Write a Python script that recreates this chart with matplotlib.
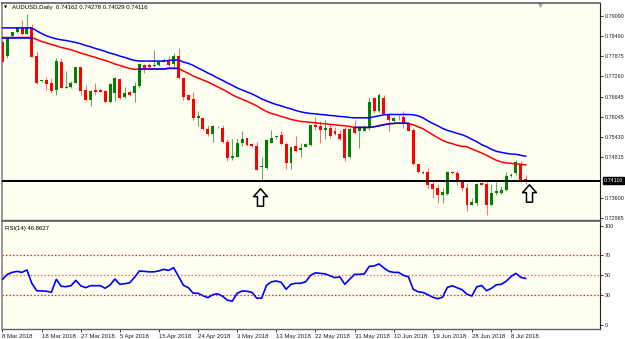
import numpy as np
import matplotlib.pyplot as plt
from matplotlib.path import Path
from matplotlib.transforms import blended_transform_factory

# AUDUSD daily bars, 8 Mar 2018 - 11 Jul 2018
opens = [
    0.7830, 0.7788, 0.7849, 0.7859, 0.7871, 0.7855, 0.7873, 0.7788, 0.7712, 0.7715,
    0.7705, 0.7685, 0.7770, 0.7692, 0.7695, 0.7707, 0.7753, 0.7685, 0.7655, 0.7685,
    0.7685, 0.7682, 0.7648, 0.7675, 0.7718, 0.7665, 0.7678, 0.7675, 0.7698, 0.7760,
    0.7760, 0.7757, 0.7760, 0.7770, 0.7775, 0.7762, 0.7787, 0.7720, 0.7670, 0.7657,
    0.7600, 0.7600, 0.7567, 0.7553, 0.7572, 0.7570, 0.7529, 0.7480, 0.7484, 0.7525,
    0.7540, 0.7523, 0.7517, 0.7452, 0.7449, 0.7526, 0.7544, 0.7550, 0.7523, 0.7464,
    0.7517, 0.7505, 0.7514, 0.7520, 0.7580, 0.7577, 0.7563, 0.7570, 0.7560, 0.7553,
    0.7567, 0.7483, 0.7572, 0.7560, 0.7562, 0.7570, 0.7662, 0.7620, 0.7660, 0.7612,
    0.7590, 0.7602, 0.7602, 0.7585, 0.7565, 0.7461, 0.7436, 0.7437, 0.7401, 0.7389,
    0.7369, 0.7371, 0.7437, 0.7434, 0.7409, 0.7389, 0.7339, 0.7344, 0.7404, 0.7401,
    0.7339, 0.7374, 0.7374, 0.7384, 0.7426, 0.7434, 0.7461, 0.74162]
highs = [
    0.7833, 0.7845, 0.7860, 0.7876, 0.7896, 0.7914, 0.7884, 0.7800, 0.7715, 0.7725,
    0.7720, 0.7781, 0.7782, 0.7742, 0.7712, 0.7755, 0.7755, 0.7700, 0.7685, 0.7705,
    0.7690, 0.7685, 0.7705, 0.7725, 0.7722, 0.7695, 0.7682, 0.7710, 0.7765, 0.7762,
    0.7765, 0.7806, 0.7772, 0.7781, 0.7787, 0.7796, 0.7811, 0.7721, 0.7673, 0.7680,
    0.7620, 0.7601, 0.7580, 0.7580, 0.7577, 0.7580, 0.7537, 0.7537, 0.7540, 0.7560,
    0.7541, 0.7526, 0.7529, 0.7484, 0.7537, 0.7565, 0.7550, 0.7560, 0.7529, 0.7517,
    0.7545, 0.7525, 0.7525, 0.7580, 0.7603, 0.7590, 0.7595, 0.7580, 0.7573, 0.7565,
    0.7573, 0.7573, 0.7595, 0.7575, 0.7580, 0.7665, 0.7665, 0.7675, 0.7670, 0.7615,
    0.7602, 0.7608, 0.7622, 0.7588, 0.7570, 0.7462, 0.7441, 0.7449, 0.7414, 0.7401,
    0.7389, 0.7441, 0.7441, 0.7441, 0.7414, 0.7404, 0.7359, 0.7404, 0.7407, 0.7409,
    0.7401, 0.7409, 0.7394, 0.7437, 0.7434, 0.7474, 0.7471, 0.74278]
lows = [
    0.7768, 0.7781, 0.7848, 0.7857, 0.7851, 0.7854, 0.7784, 0.7703, 0.7709, 0.7685,
    0.7675, 0.7670, 0.7691, 0.7691, 0.7692, 0.7705, 0.7670, 0.7652, 0.7638, 0.7670,
    0.7678, 0.7648, 0.7647, 0.7652, 0.7658, 0.7660, 0.7668, 0.7648, 0.7692, 0.7735,
    0.7750, 0.7755, 0.7758, 0.7769, 0.7757, 0.7750, 0.7718, 0.7655, 0.7654, 0.7595,
    0.7575, 0.7565, 0.7545, 0.7529, 0.7569, 0.7525, 0.7472, 0.7474, 0.7483, 0.7517,
    0.7517, 0.7514, 0.7443, 0.7414, 0.7447, 0.7525, 0.7537, 0.7520, 0.7446, 0.7446,
    0.7499, 0.7484, 0.7513, 0.7517, 0.7565, 0.7525, 0.7537, 0.7540, 0.7550, 0.7535,
    0.7472, 0.7480, 0.7553, 0.7511, 0.7560, 0.7565, 0.7615, 0.7619, 0.7610, 0.7560,
    0.7588, 0.7595, 0.7570, 0.7560, 0.7459, 0.7434, 0.7431, 0.7389, 0.7359, 0.7344,
    0.7344, 0.7369, 0.7431, 0.7399, 0.7381, 0.7321, 0.7337, 0.7339, 0.7397, 0.7309,
    0.7337, 0.7369, 0.7371, 0.7381, 0.7424, 0.7429, 0.7409, 0.74029]
closes = [
    0.7769, 0.7843, 0.7859, 0.7871, 0.7853, 0.7873, 0.7785, 0.7705, 0.7714, 0.7703,
    0.7682, 0.7772, 0.7692, 0.7694, 0.7707, 0.7753, 0.7682, 0.7655, 0.7682, 0.7678,
    0.7680, 0.7648, 0.7703, 0.7720, 0.7660, 0.7675, 0.7670, 0.7698, 0.7762, 0.7748,
    0.7753, 0.7760, 0.7770, 0.7775, 0.7760, 0.7788, 0.7720, 0.7665, 0.7655, 0.7600,
    0.7605, 0.7567, 0.7553, 0.7577, 0.7574, 0.7529, 0.7480, 0.7486, 0.7526, 0.7537,
    0.7520, 0.7517, 0.7444, 0.7456, 0.7535, 0.7541, 0.7546, 0.7523, 0.7464, 0.7514,
    0.7502, 0.7510, 0.7523, 0.7579, 0.7573, 0.7563, 0.7570, 0.7545, 0.7553, 0.7537,
    0.7480, 0.7567, 0.7555, 0.7570, 0.7572, 0.7650, 0.7620, 0.7670, 0.7612, 0.7595,
    0.7600, 0.7603, 0.7582, 0.7562, 0.7461, 0.7437, 0.7437, 0.7399, 0.7387, 0.7369,
    0.7377, 0.7437, 0.7434, 0.7407, 0.7389, 0.7339, 0.7347, 0.7401, 0.7399, 0.7339,
    0.7374, 0.7381, 0.7384, 0.7427, 0.7427, 0.7467, 0.7411, 0.74116]

# the two moving-average style lines
upper_line = [
    0.7872, 0.7872, 0.7872, 0.7872, 0.7872, 0.7872, 0.7872, 0.7863, 0.7855, 0.7848,
    0.7843, 0.7839, 0.7836, 0.7834, 0.7831, 0.7828, 0.7824, 0.7819, 0.7815, 0.7810,
    0.7806, 0.7801, 0.7796, 0.7792, 0.7787, 0.7783, 0.7778, 0.7774, 0.7772, 0.7772,
    0.7772, 0.7772, 0.7772, 0.7772, 0.7774, 0.7775, 0.7775, 0.7769, 0.7765, 0.7759,
    0.7751, 0.7744, 0.7736, 0.7729, 0.7721, 0.7714, 0.7706, 0.7699, 0.7691, 0.7685,
    0.7679, 0.7673, 0.7666, 0.7658, 0.7652, 0.7646, 0.7641, 0.7637, 0.7632, 0.7628,
    0.7623, 0.7619, 0.7616, 0.7614, 0.7613, 0.7611, 0.7610, 0.7608, 0.7607, 0.7605,
    0.7604, 0.7602, 0.7601, 0.7601, 0.7601, 0.7601, 0.7604, 0.7607, 0.7610, 0.7611,
    0.7611, 0.7611, 0.7611, 0.7611, 0.7610, 0.7607, 0.7601, 0.7592, 0.7584, 0.7577,
    0.7569, 0.7563, 0.7559, 0.7554, 0.7550, 0.7544, 0.7536, 0.7529, 0.7520, 0.7514,
    0.7506, 0.7500, 0.7497, 0.7494, 0.7492, 0.7491, 0.7488, 0.7485]
lower_line = [
    0.7843, 0.7843, 0.7843, 0.7843, 0.7843, 0.7843, 0.7843, 0.7837, 0.7831, 0.7827,
    0.7822, 0.7818, 0.7813, 0.7810, 0.7806, 0.7801, 0.7796, 0.7792, 0.7787, 0.7783,
    0.7778, 0.7774, 0.7769, 0.7763, 0.7759, 0.7754, 0.7750, 0.7747, 0.7748, 0.7748,
    0.7748, 0.7748, 0.7748, 0.7748, 0.7750, 0.7750, 0.7750, 0.7742, 0.7735, 0.7727,
    0.7721, 0.7715, 0.7709, 0.7702, 0.7694, 0.7687, 0.7679, 0.7670, 0.7663, 0.7657,
    0.7651, 0.7644, 0.7637, 0.7628, 0.7620, 0.7614, 0.7610, 0.7605, 0.7601, 0.7596,
    0.7593, 0.7590, 0.7589, 0.7587, 0.7586, 0.7584, 0.7583, 0.7581, 0.7580, 0.7578,
    0.7577, 0.7575, 0.7572, 0.7572, 0.7572, 0.7572, 0.7574, 0.7577, 0.7580, 0.7583,
    0.7584, 0.7585, 0.7585, 0.7584, 0.7580, 0.7574, 0.7568, 0.7559, 0.7550, 0.7541,
    0.7533, 0.7527, 0.7523, 0.7518, 0.7515, 0.7514, 0.7507, 0.7501, 0.7495, 0.7488,
    0.7480, 0.7473, 0.7468, 0.7465, 0.7464, 0.7462, 0.7461, 0.7459]
# bar ranges where the lower line is drawn blue instead of red
lower_blue_spans = [(0, 6), (28, 36), (72, 83)]

rsi = [
    46, 51, 53, 54, 53, 55.5, 42, 34.5, 34.3, 34,
    33, 46, 39, 38.6, 39.5, 45, 39.5, 37.6, 39.6, 39.6,
    39.6, 37, 40.3, 46.3, 41, 41.6, 42.5, 48, 54.4, 54,
    53.5, 53.5, 54.5, 56, 55, 57.7, 49, 40, 37.6, 32,
    32, 29.5, 27.5, 30.5, 31.5, 29, 25, 24, 32, 34.2,
    34, 33, 27, 27, 40, 43.5, 44.3, 43, 36, 41,
    42, 42, 43.5, 50, 52.5, 52, 51.5, 49.5, 47.6, 48.5,
    41, 46, 51, 51, 51.5, 59, 59.5, 61.5, 57.5, 54,
    53, 53, 50, 48.6, 36, 33.5, 32.8, 30.5, 28, 26.5,
    28, 38, 39.4, 37.5, 35.5, 31, 29.2, 38.5, 39.8, 34.5,
    37, 40.5, 41, 44, 48.8, 52, 48, 46.8627]
rsi_levels = [70, 50, 30]
rsi_ticks = [100, 70, 50, 30, 0]

price_ticks = [0.79090, 0.78490, 0.77875, 0.77260, 0.76645, 0.76045,
               0.75430, 0.74815, 0.73600, 0.72985]
last_price = 0.74116
date_labels = ['8 Mar 2018', '18 Mar 2018', '27 Mar 2018', '5 Apr 2018',
               '15 Apr 2018', '24 Apr 2018', '3 May 2018', '13 May 2018',
               '22 May 2018', '31 May 2018', '10 Jun 2018', '19 Jun 2018',
               '28 Jun 2018', '8 Jul 2018']
# hand-drawn up arrows: (bar, price)
arrows = [(52.6, 0.7362), (107.6, 0.7374)]

plt.rcParams['font.family'] = ['Liberation Sans', 'DejaVu Sans']
FS = 4.3
FS_AX = 3.85
BG = '#fffff2'

n = len(closes)
x = np.arange(n)
o = np.array(opens); c = np.array(closes)
h = np.array(highs); l = np.array(lows)
up = c >= o

fig = plt.figure(figsize=(6.25, 3.39), dpi=100)
fig.patch.set_facecolor('white')
ax = fig.add_axes([2 / 625, 1 - 220 / 339, 598 / 625, 217 / 339])
ax2 = fig.add_axes([2 / 625, 1 - 329 / 339, 598 / 625, 108 / 339])

for a in (ax, ax2):
    a.set_facecolor(BG)
    a.set_xlim(-0.1, 122.2)
    a.spines['left'].set_color('#9a9a9a')
    a.spines['left'].set_linewidth(1.4)
    a.spines['right'].set_color('#202020')
    a.spines['right'].set_linewidth(0.8)
    a.spines['top'].set_color('#606060')
    a.spines['top'].set_linewidth(1.2)
    a.spines['bottom'].set_color('#606060')
    a.spines['bottom'].set_linewidth(1.0)
    a.yaxis.tick_right()
    a.tick_params(axis='y', direction='out', length=2.2, width=0.6,
                  pad=1.0, labelsize=FS_AX, colors='#202020')

# candles
wick_col = np.where(up, '#5fae5f', '#ff7070')
body_col = np.where(up, '#008000', '#ff0000')
ax.vlines(x, l, h, colors=wick_col, linewidth=0.75, zorder=2)
body_h = np.maximum(np.abs(c - o), 0.00025)
ax.bar(x, body_h, bottom=np.minimum(o, c), width=0.6, color=body_col,
       linewidth=0, zorder=3)

# lines
ax.plot(x, upper_line, color='#0000ff', lw=1.1, zorder=4)
ax.plot(x, lower_line, color='#ff0000', lw=1.1, zorder=4)
low_arr = np.array(lower_line)
for s, e in lower_blue_spans:
    ax.plot(x[s:e + 1], low_arr[s:e + 1], color='#0000ff', lw=1.1, zorder=5)

# last price line and label
ax.axhline(last_price, color='black', lw=1.4, zorder=6)
ax.set_ylim(0.7293, 0.7947)
ax.set_yticks(price_ticks)
ax.set_yticklabels([f'{v:.5f}' for v in price_ticks])
ax.set_xticks([])
tr = blended_transform_factory(ax.transAxes, ax.transData)
ax.text(1.0065, last_price, f'{last_price:.5f}', transform=tr, fontsize=FS_AX,
        color='white', va='center', ha='left', zorder=10, clip_on=False,
        bbox=dict(boxstyle='square,pad=0.15', fc='black', ec='black'))

# up arrows
arrow_path = Path([(0, 1), (0.8, 0.1), (0.35, 0.1), (0.35, -1),
                   (-0.35, -1), (-0.35, 0.1), (-0.8, 0.1), (0, 1)],
                  [Path.MOVETO] + [Path.LINETO] * 6 + [Path.CLOSEPOLY])
for bx, by in arrows:
    ax.plot([bx], [by], marker=arrow_path, ms=12.5, mfc='white', mec='black',
            mew=1.1, zorder=8)

# header texts
ax.text(0.006, 0.977, '\u25bc', transform=ax.transAxes, fontsize=3,
        family='DejaVu Sans', va='center', ha='center', color='black')
ax.text(0.0165, 0.977, 'AUDUSD,Daily  0.74162 0.74278 0.74029 0.74116',
        transform=ax.transAxes, fontsize=FS, va='center', ha='left', color='black')
ax.plot([0.9], [0.992], marker='v', ms=2.5, color='#b0b0b0',
        transform=ax.transAxes, clip_on=False)

# RSI panel
ax2.plot(x, rsi, color='#0000ff', lw=1.2, zorder=4)
for lv in rsi_levels:
    ax2.axhline(lv, color='#ff2020' if lv != 50 else '#ff6060', lw=0.9,
                linestyle=(0, (1.2, 1.6)), zorder=2)
ax2.set_ylim(-4, 104.7)
ax2.set_yticks(rsi_ticks)
ax2.set_yticklabels([str(v) for v in rsi_ticks])
ax2.text(0.005, 0.93, f'RSI(14) {rsi[-1]:.4f}', transform=ax2.transAxes,
         fontsize=FS, va='center', ha='left', color='black')

tick_bars = np.arange(0, n, 8)[:len(date_labels)]
ax2.set_xticks(tick_bars)
ax2.set_xticklabels(date_labels)
ax2.tick_params(axis='x', direction='out', length=2.5, width=0.6, pad=1,
                labelsize=FS, colors='#202020')
for lab in ax2.get_xticklabels():
    lab.set_ha('left')

fig.savefig('out.png', dpi=100, facecolor='white')
